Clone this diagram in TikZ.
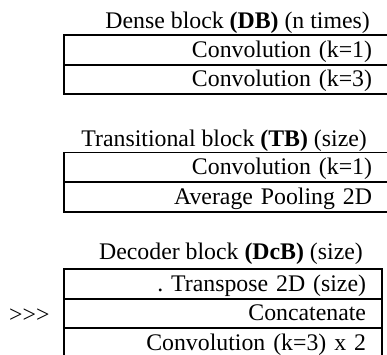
\documentclass[tikz,border=0pt]{standalone}
\usepackage{fontspec}
\setmainfont{Liberation Serif}
\frenchspacing
\begin{document}
\begin{tikzpicture}[x=1pt,y=-1pt,
  every node/.style={font=\fontsize{23.8}{28}\selectfont},
  title/.style={anchor=base east, inner sep=0pt},
  row/.style={draw, line width=1.9pt, anchor=north west, inner ysep=0pt,
    outer sep=0pt, text height=22pt, text depth=7.7pt, align=right},
  wide/.style={row, inner xsep=17pt, text width=291pt},
  narrow/.style={row, inner xsep=16pt, text width=286pt}]
\useasboundingbox (0,0) rectangle (387,354);
% Dense block
\node[title] (dbt) at (370,28) {Dense block \textbf{(DB)} (n times)};
\node[wide] (db1) at (64,35) {Convolution (k=1)};
\node[wide] (db2) at (db1.south west) {Convolution (k=3)};
% Transitional block
\node[title] (tbt) at (367,146) {Transitional block \textbf{(TB)} (size)};
\node[wide] (tb1) at (64,152.5) {Convolution (k=1)};
\node[wide] (tb2) at (tb1.south west) {Average Pooling 2D};
% Decoder block
\node[title] (dct) at (363,259) {Decoder block \textbf{(DcB)} (size)};
\node[narrow] (dc1) at (64,269) {. Transpose 2D (size)};
\node[narrow] (dc2) at (dc1.south west) {Concatenate};
\node[narrow] (dc3) at (dc2.south west) {Convolution (k=3) x 2};
\node[anchor=base west, inner sep=0pt] (skip) at (9,322.5) {>\kern0pt>\kern0pt>};
\end{tikzpicture}
\end{document}
